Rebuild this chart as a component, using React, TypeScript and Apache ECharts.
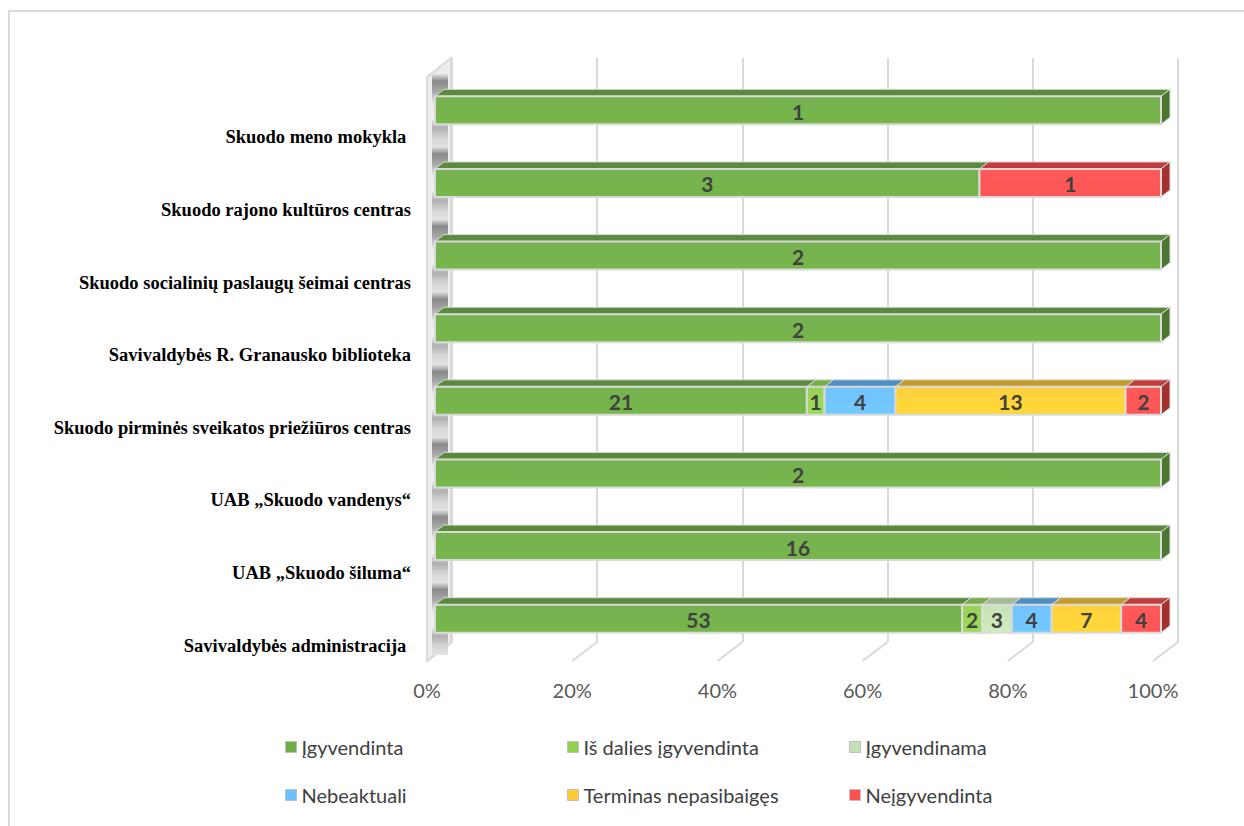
import React, { useEffect, useRef } from "react";
import * as echarts from "echarts";

const categories = [
  "Savivaldybės administracija ",
  "UAB „Skuodo šiluma“",
  "UAB „Skuodo vandenys“",
  "Skuodo pirminės sveikatos priežiūros centras",
  "Savivaldybės R. Granausko biblioteka",
  "Skuodo socialinių paslaugų šeimai centras",
  "Skuodo rajono kultūros centras",
  "Skuodo meno mokykla ",
];
const seriesNames = [
  "Įgyvendinta",
  "Iš dalies įgyvendinta",
  "Įgyvendinama",
  "Nebeaktuali",
  "Terminas nepasibaigęs",
  "Neįgyvendinta",
];
const igyvendinta = [53, 16, 2, 21, 2, 2, 3, 1];
const isDaliesIgyvendinta = [2, 0, 0, 1, 0, 0, 0, 0];
const igyvendinama = [3, 0, 0, 0, 0, 0, 0, 0];
const nebeaktuali = [4, 0, 0, 4, 0, 0, 0, 0];
const terminasNepasibaiges = [7, 0, 0, 13, 0, 0, 0, 0];
const neigyvendinta = [4, 0, 0, 2, 0, 0, 1, 0];
const xTicks = [0, 20, 40, 60, 80, 100];

const frontColors = ["#6FAD46", "#92D050", "#C5E0B4", "#6BBFFF", "#FFCD33", "#FF5050"];
const topColors = ["#5C8A3C", "#78AC44", "#A3BC94", "#4E8EC2", "#C49C2C", "#C23E3E"];
const sideColors = ["#4A7630", "#66933A", "#8CA47E", "#3C74A4", "#A48220", "#A53030"];

const allSeries = [
  igyvendinta,
  isDaliesIgyvendinta,
  igyvendinama,
  nebeaktuali,
  terminasNepasibaiges,
  neigyvendinta,
];

function buildOption() {
  const totals = categories.map((_, c) => allSeries.reduce((s, arr) => s + arr[c], 0));
  const lastIdx = categories.map((_, c) => {
    let li = -1;
    allSeries.forEach((arr, i) => {
      if (arr[c] > 0) li = i;
    });
    return li;
  });
  const cum = categories.map(() => 0);
  const DX = 9;
  const DY = -7;

  const barSeries = allSeries.map((arr, si) => {
    const data: any[] = [];
    arr.forEach((v, c) => {
      const s = (cum[c] / totals[c]) * 100;
      cum[c] += v;
      const e = (cum[c] / totals[c]) * 100;
      if (v > 0) data.push([c, s, e, v, lastIdx[c] === si ? 1 : 0]);
    });
    return {
      type: "custom",
      name: seriesNames[si],
      xAxisIndex: 0,
      yAxisIndex: 0,
      itemStyle: { color: frontColors[si] },
      encode: { x: [1, 2], y: 0 },
      data,
      z: 10,
      renderItem: (params: any, api: any) => {
        const cat = api.value(0);
        const a = api.coord([api.value(1), cat]);
        const b = api.coord([api.value(2), cat]);
        const v = api.value(3);
        const last = api.value(4);
        const band = api.size([0, 1])[1];
        const h = band * 0.385;
        const x0 = a[0];
        const x1 = b[0];
        const y0 = a[1] - h / 2;
        const children: any[] = [
          {
            type: "polygon",
            shape: { points: [[x0, y0], [x0 + DX, y0 + DY], [x1 + DX, y0 + DY], [x1, y0]] },
            style: { fill: topColors[si], stroke: "#D9D9D9", lineWidth: 1 },
          },
        ];
        if (last) {
          children.push({
            type: "polygon",
            shape: {
              points: [[x1, y0], [x1 + DX, y0 + DY], [x1 + DX, y0 + DY + h], [x1, y0 + h]],
            },
            style: { fill: sideColors[si], stroke: "#D9D9D9", lineWidth: 1 },
          });
        }
        children.push({
          type: "rect",
          shape: { x: x0, y: y0, width: x1 - x0, height: h },
          style: {
            fill: new echarts.graphic.LinearGradient(0, 0, 0, 1, [
              { offset: 0, color: echarts.color.lift(frontColors[si], 0.06) },
              { offset: 1, color: echarts.color.lift(frontColors[si], -0.06) },
            ]),
            stroke: "#D9D9D9",
            lineWidth: 2,
          },
        });
        children.push({
          type: "text",
          style: {
            text: String(v),
            x: (x0 + x1) / 2,
            y: a[1] + 1,
            align: "center",
            verticalAlign: "middle",
            fontFamily: "Lato",
            fontWeight: "bold",
            fontSize: 21,
            fill: "#404040",
          },
        });
        return { type: "group", children };
      },
    };
  });

  const wallSeries = {
    type: "custom",
    xAxisIndex: 0,
    yAxisIndex: 0,
    silent: true,
    z: 3,
    data: categories.map((_, i) => [i]),
    encode: { y: 0 },
    renderItem: (params: any, api: any) => {
      const c = api.coord([0, api.value(0)]);
      const band = api.size([0, 1])[1];
      return {
        type: "rect",
        shape: { x: 432, y: c[1] - band / 2, width: 16, height: band },
        style: {
          fill: new echarts.graphic.LinearGradient(0, 0, 0, 1, [
            { offset: 0, color: "#E2E2E2" },
            { offset: 0.1, color: "#8A8A8A" },
            { offset: 0.24, color: "#A8A8A8" },
            { offset: 0.4, color: "#EAEAEA" },
            { offset: 0.6, color: "#F2F2F2" },
            { offset: 0.74, color: "#B0B0B0" },
            { offset: 0.88, color: "#D6D6D6" },
            { offset: 1, color: "#E2E2E2" },
          ]),
        },
      };
    },
  };

  const floorSeries = {
    type: "custom",
    xAxisIndex: 1,
    yAxisIndex: 1,
    silent: true,
    z: 2,
    data: xTicks.map((t) => [t]),
    encode: { x: 0 },
    renderItem: (params: any, api: any) => {
      const p = api.coord([api.value(0), 0]);
      return {
        type: "line",
        shape: { x1: p[0], y1: p[1], x2: p[0] - 25, y2: p[1] + 19 },
        style: { stroke: "#D9D9D9", lineWidth: 2 },
      };
    },
  };

  const legendPos = [
    [280, 732],
    [562, 732],
    [844, 732],
    [280, 780],
    [562, 780],
    [844, 780],
  ];

  return {
    animation: false,
    backgroundColor: "#FFFFFF",
    grid: [
      { left: 435, width: 726, top: 74, height: 581 },
      { left: 452, width: 726, top: 58, height: 584 },
      { left: 427, width: 726, top: 655, height: 6 },
    ],
    xAxis: [
      { type: "value", gridIndex: 0, min: 0, max: 100, show: false },
      {
        type: "value",
        gridIndex: 1,
        min: 0,
        max: 100,
        interval: 20,
        axisLine: { show: false },
        axisTick: { show: false },
        axisLabel: { show: false },
        splitLine: { show: true, lineStyle: { color: "#D9D9D9", width: 2 } },
      },
      {
        type: "value",
        gridIndex: 2,
        min: 0,
        max: 100,
        interval: 20,
        axisLine: { show: false },
        axisTick: { show: false },
        splitLine: { show: false },
        axisLabel: {
          margin: 19,
          formatter: "{value}%",
          fontFamily: "Lato",
          fontSize: 20,
          color: "#595959",
        },
      },
    ],
    yAxis: [
      {
        type: "category",
        gridIndex: 0,
        data: categories,
        axisLine: { show: false },
        axisTick: { show: false },
        splitLine: { show: false },
        axisLabel: {
          margin: 24,
          formatter: (v: string) => "{s| }\n{t|" + v + "}",
          rich: {
            s: { lineHeight: 54, fontSize: 4 },
            t: {
              lineHeight: 18,
              fontFamily: "Liberation Serif",
              fontWeight: "bold",
              fontSize: 18.5,
              color: "#000000",
            },
          },
        },
      },
      { type: "value", gridIndex: 1, min: 0, max: 1, show: false },
      { type: "value", gridIndex: 2, min: 0, max: 1, show: false },
    ],
    legend: seriesNames.map((n, i) => ({
      data: [n],
      left: legendPos[i][0],
      top: legendPos[i][1],
      icon: "rect",
      itemWidth: 11,
      itemHeight: 11,
      itemGap: 6,
      selectedMode: false,
      itemStyle: { borderColor: "#BFBFBF", borderWidth: 1 },
      textStyle: { fontFamily: "Lato", fontSize: 20, color: "#404040" },
    })),
    graphic: [
      {
        type: "rect",
        shape: { x: 9, y: 11, width: 1250, height: 830 },
        style: { fill: "none", stroke: "#D9D9D9", lineWidth: 2 },
        z: 1,
      },
      {
        type: "polygon",
        shape: { points: [[427, 77], [451, 58], [451, 643], [427, 661]] },
        style: { fill: "#EDEDED", stroke: "#D9D9D9", lineWidth: 2 },
        z: 1,
      },
    ],
    series: [wallSeries, floorSeries, ...barSeries],
  };
}

export default function App() {
  const ref = useRef<HTMLDivElement>(null);
  useEffect(() => {
    document.body.style.margin = "0";
    const chart = echarts.init(ref.current!, undefined, { renderer: "svg" });
    chart.setOption(buildOption() as any);
    return () => chart.dispose();
  }, []);
  return <div ref={ref} style={{ width: 1244, height: 826 }} />;
}
